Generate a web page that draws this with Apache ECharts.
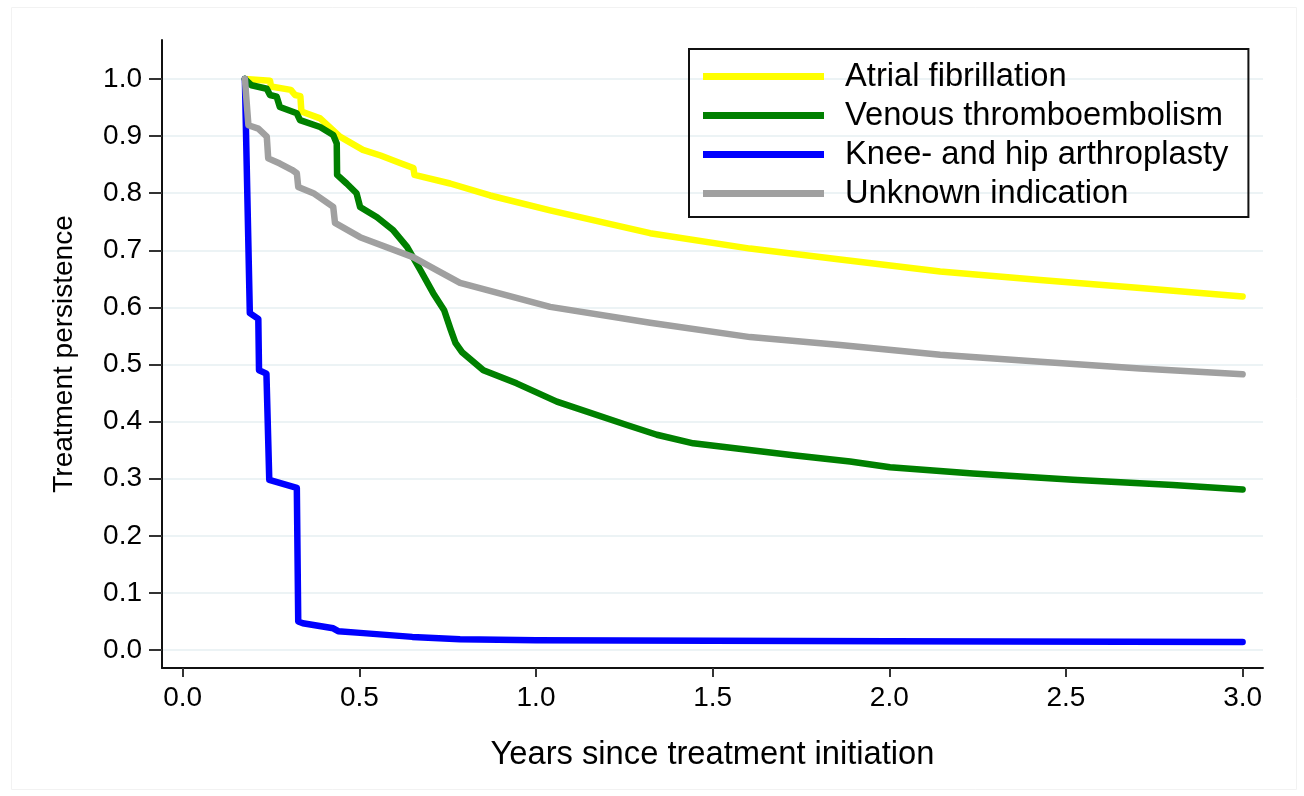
<!DOCTYPE html>
<html>
<head>
<meta charset="utf-8">
<script src="https://cdn.jsdelivr.net/npm/echarts@6/dist/echarts.min.js"></script>
<style>
  html, body { margin: 0; padding: 0; background: #fff; }
  #chart { width: 1304px; height: 796px; }
</style>
</head>
<body>
<div id="chart"></div>
<script>
  // 图例名称
  var seriesNames = ['Atrial fibrillation', 'Venous thromboembolism', 'Knee- and hip arthroplasty', 'Unknown indication'];
  var seriesColors = ['#ffff00', '#008000', '#0000ff', '#a0a0a0'];

  // 刻度
  var xTicks = [0, 0.5, 1, 1.5, 2, 2.5, 3];
  var yTicks = [0, 0.1, 0.2, 0.3, 0.4, 0.5, 0.6, 0.7, 0.8, 0.9, 1.0];

  // [years, persistence]
  var atrialData = [
    [0.176, 1.0], [0.247, 0.997], [0.250, 0.987], [0.306, 0.981], [0.318, 0.972], [0.333, 0.970],
    [0.336, 0.943], [0.389, 0.931], [0.445, 0.899], [0.510, 0.876], [0.56, 0.866], [0.615, 0.853],
    [0.653, 0.844], [0.656, 0.832], [0.757, 0.817], [0.87, 0.796], [1.04, 0.770], [1.323, 0.730],
    [1.606, 0.703], [1.861, 0.684], [2.144, 0.663], [2.427, 0.648], [2.710, 0.634], [3.0, 0.619]
  ];
  var venousData = [
    [0.176, 1.0], [0.195, 0.989], [0.238, 0.983], [0.247, 0.972], [0.266, 0.969], [0.275, 0.951],
    [0.323, 0.940], [0.332, 0.928], [0.389, 0.916], [0.426, 0.902], [0.436, 0.887], [0.437, 0.832],
    [0.464, 0.817], [0.492, 0.800], [0.502, 0.776], [0.550, 0.758], [0.596, 0.735], [0.635, 0.706],
    [0.672, 0.666], [0.709, 0.625], [0.740, 0.595], [0.758, 0.562], [0.772, 0.538], [0.790, 0.522],
    [0.851, 0.490], [0.945, 0.467], [1.059, 0.435], [1.257, 0.394], [1.342, 0.377], [1.445, 0.362],
    [1.728, 0.341], [1.889, 0.330], [2.002, 0.320], [2.237, 0.309], [2.520, 0.298], [2.803, 0.289],
    [3.0, 0.281]
  ];
  var kneeHipData = [
    [0.176, 1.0], [0.190, 0.590], [0.214, 0.580], [0.216, 0.490], [0.237, 0.484], [0.245, 0.298],
    [0.323, 0.284], [0.327, 0.050], [0.340, 0.047], [0.426, 0.038], [0.440, 0.033], [0.502, 0.030],
    [0.650, 0.023], [0.785, 0.019], [1.0, 0.017], [2.0, 0.0155], [3.0, 0.014]
  ];
  var unknownData = [
    [0.176, 1.0], [0.181, 0.998], [0.186, 0.919], [0.214, 0.913], [0.238, 0.899], [0.242, 0.861],
    [0.275, 0.852], [0.309, 0.841], [0.323, 0.835], [0.327, 0.811], [0.370, 0.800], [0.426, 0.776],
    [0.431, 0.748], [0.502, 0.723], [0.652, 0.688], [0.72, 0.665], [0.785, 0.643], [1.040, 0.601],
    [1.323, 0.573], [1.606, 0.548], [1.861, 0.534], [2.144, 0.517], [2.427, 0.505], [2.710, 0.493],
    [3.0, 0.483]
  ];
  var allData = [atrialData, venousData, kneeHipData, unknownData];

  var font = 'Liberation Sans, Arial, sans-serif';

  var option = {
    backgroundColor: '#fff',
    animation: false,
    color: seriesColors,
    graphic: [{
      type: 'rect',
      shape: { x: 11.5, y: 7.5, width: 1285, height: 782 },
      style: { fill: 'none', stroke: '#f2f2f2', lineWidth: 1 },
      silent: true
    }],
    legend: {
      orient: 'vertical',
      left: 689,
      top: 49,
      padding: [11, 20, 7, 14],
      borderColor: '#111',
      borderWidth: 2,
      itemWidth: 121,
      itemHeight: 7,
      itemGap: 6,
      icon: 'rect',
      textStyle: {
        fontFamily: font,
        fontSize: 32.7,
        color: '#000',
        padding: [0, 0, 0, 16]
      },
      data: seriesNames
    },
    grid: {
      left: 162,
      right: 41,
      top: 40,
      bottom: 128,
      containLabel: false
    },
    xAxis: {
      type: 'value',
      min: -0.0586,
      max: 3.0577,
      name: 'Years since treatment initiation',
      nameLocation: 'middle',
      nameGap: 70,
      nameTextStyle: { fontFamily: font, fontSize: 32.7, color: '#000' },
      axisLine: { onZero: false, lineStyle: { color: '#111', width: 2 } },
      axisTick: { show: true, length: 9, customValues: xTicks, lineStyle: { color: '#333', width: 2 } },
      axisLabel: {
        customValues: xTicks,
        margin: 16,
        fontFamily: font,
        fontSize: 28,
        color: '#000',
        formatter: function (v) { return v.toFixed(1); }
      },
      splitLine: { show: false }
    },
    yAxis: {
      type: 'value',
      min: -0.0315,
      max: 1.0683,
      name: 'Treatment persistence',
      nameLocation: 'middle',
      nameRotate: 90,
      nameGap: 84,
      nameTextStyle: { fontFamily: font, fontSize: 28, color: '#000' },
      axisLine: { show: true, onZero: false, lineStyle: { color: '#111', width: 2 } },
      axisTick: { show: true, length: 13, customValues: yTicks, lineStyle: { color: '#333', width: 2 } },
      axisLabel: {
        customValues: yTicks,
        margin: 20,
        fontFamily: font,
        fontSize: 28,
        color: '#000',
        formatter: function (v) { return v.toFixed(1); }
      },
      splitLine: { show: true, lineStyle: { color: '#e6eff2', width: 1.5 } }
    },
    series: seriesNames.map(function (name, i) {
      return {
        name: name,
        type: 'line',
        data: allData[i],
        showSymbol: false,
        symbol: 'none',
        smooth: false,
        lineStyle: { color: seriesColors[i], width: 6.5, cap: 'round', join: 'round' },
        itemStyle: { color: seriesColors[i] }
      };
    })
  };

  var myChart = echarts.init(document.getElementById('chart'));
  myChart.setOption(option);
  window.addEventListener('resize', function () { myChart.resize(); });
</script>
</body>
</html>
